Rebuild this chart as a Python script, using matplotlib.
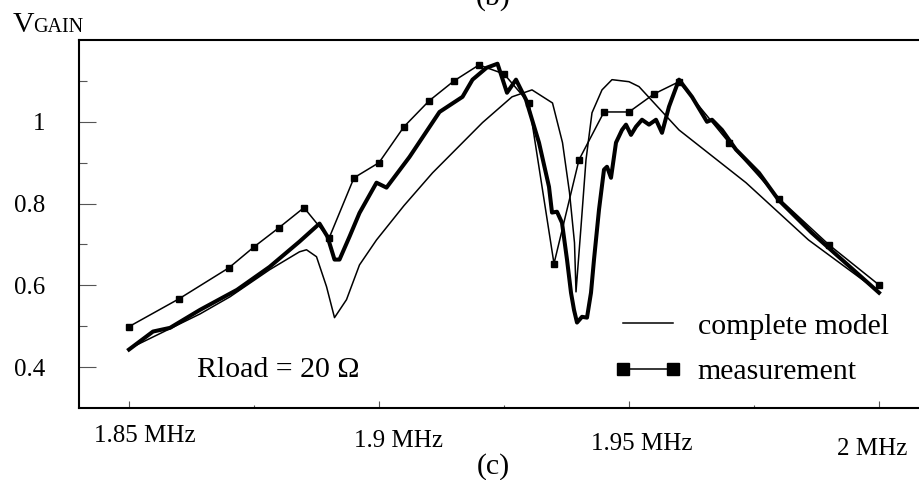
import matplotlib.pyplot as plt
from matplotlib.transforms import ScaledTranslation

plt.rcParams['font.family'] = ['Liberation Serif', 'DejaVu Serif']

# measurement (square markers)
meas_f = [1.85, 1.86, 1.87, 1.875, 1.88, 1.885, 1.89, 1.895, 1.9, 1.905,
          1.91, 1.915, 1.92, 1.925, 1.93, 1.935, 1.94, 1.945, 1.95, 1.955,
          1.96, 1.97, 1.98, 1.99, 2.0]
meas_v = [0.499, 0.567, 0.643, 0.694, 0.741, 0.790, 0.715, 0.863, 0.900, 0.988,
          1.051, 1.100, 1.139, 1.117, 1.046, 0.653, 0.907, 1.024, 1.024, 1.068,
          1.098, 0.949, 0.812, 0.699, 0.601]

# complete model (thin line)
model_f = [1.85, 1.8582, 1.8642, 1.8702, 1.8781, 1.8841, 1.8855, 1.8875, 1.8895,
           1.8911, 1.8935, 1.8961, 1.8995, 1.905, 1.9107, 1.9207, 1.9266, 1.9306,
           1.9347, 1.9367, 1.9381, 1.9391, 1.9394, 1.9404, 1.9414, 1.9426,
           1.9446, 1.9466, 1.95, 1.952, 1.96, 1.9734, 1.9859, 2.0]
model_v = [0.445, 0.494, 0.530, 0.572, 0.638, 0.682, 0.687, 0.670, 0.597,
           0.521, 0.565, 0.650, 0.711, 0.795, 0.875, 0.998, 1.061, 1.078,
           1.046, 0.949, 0.827, 0.704, 0.584, 0.743, 0.907, 1.022,
           1.078, 1.103, 1.098, 1.086, 0.980, 0.851, 0.711, 0.584]

# thick trace
trace_f = [1.85, 1.8548, 1.8582, 1.8642, 1.8716, 1.8781, 1.8841, 1.8881, 1.8897,
           1.8911, 1.8921, 1.8941, 1.8961, 1.8995, 1.9015, 1.9061, 1.9121, 1.9167,
           1.9187, 1.9215, 1.9237, 1.9256, 1.9274, 1.9294, 1.932, 1.934, 1.9346,
           1.9356, 1.9366, 1.9376, 1.9384, 1.939, 1.9396, 1.9406, 1.9416, 1.9424,
           1.943, 1.944, 1.945, 1.9456, 1.9464, 1.9474, 1.9486, 1.9494, 1.9504,
           1.9514, 1.9526, 1.954, 1.9554, 1.9566, 1.958, 1.96, 1.9626, 1.9656,
           1.9666, 1.9686, 1.9714, 1.976, 1.9799, 1.9865, 2.0]
trace_v = [0.443, 0.487, 0.496, 0.540, 0.589, 0.645, 0.707, 0.751, 0.719,
           0.663, 0.663, 0.719, 0.777, 0.851, 0.839, 0.914, 1.024, 1.061,
           1.103, 1.132, 1.142, 1.071, 1.103, 1.054, 0.949, 0.841, 0.778,
           0.780, 0.753, 0.663, 0.582, 0.540, 0.509, 0.523, 0.521, 0.582,
           0.663, 0.785, 0.883, 0.890, 0.863, 0.949, 0.980, 0.993, 0.968,
           0.988, 1.005, 0.993, 1.005, 0.973, 1.037, 1.103, 1.061, 1.000,
           1.005, 0.980, 0.932, 0.875, 0.809, 0.729, 0.582]

x_major = [1.85, 1.9, 1.95, 2.0]
x_labels = ['1.85 MHz', '1.9 MHz', '1.95 MHz', '2 MHz']
x_minor = [1.875, 1.925, 1.975]
y_major = [0.4, 0.6, 0.8, 1.0]
y_labels = ['0.4', '0.6', '0.8', '1']
y_minor = [0.5, 0.7, 0.9, 1.1]

fig = plt.figure(figsize=(9.2, 4.8), dpi=100)
ax = fig.add_axes([79 / 920, 72 / 480, 841 / 920, 368 / 480])

ax.plot(model_f, model_v, color='black', lw=1.1, label='complete model')
ax.plot(trace_f, trace_v, color='black', lw=2.9, solid_joinstyle='round')
ax.plot(meas_f, meas_v, color='black', lw=1.1, marker='s', ms=5,
        label='measurement')

ax.set_xlim(1.84, 2.0082)
ax.set_ylim(0.3, 1.2)

ax.spines['right'].set_visible(False)
for s in ['left', 'bottom', 'top']:
    ax.spines[s].set_linewidth(1.5)

ax.set_xticks(x_major, x_labels)
ax.set_xticks(x_minor, minor=True)
ax.set_yticks(y_major, y_labels)
ax.set_yticks(y_minor, minor=True)
ax.tick_params(axis='x', which='major', direction='in', length=5, width=0.8,
               color='#555555', labelsize=18, pad=12.5)
ax.tick_params(axis='x', which='minor', direction='in', length=2.5, width=0.8,
               color='#555555')
ax.tick_params(axis='y', which='major', direction='in', length=12, width=0.8,
               color='#555555', labelsize=18, pad=24)
ax.tick_params(axis='y', which='minor', direction='in', length=6, width=0.8,
               color='#555555')

# staggered x tick labels as in the original
offsets = [(16, 0), (19, -5), (13, -8), (-7, -13)]
for lab, (dx, dy) in zip(ax.get_xticklabels(), offsets):
    lab.set_transform(lab.get_transform() +
                      ScaledTranslation(dx / 100, dy / 100, fig.dpi_scale_trans))

ax.text(0.140, 0.084, 'Rload = 20 \u03a9', transform=ax.transAxes,
        fontsize=21.5, va='baseline', ha='left')

ax.legend(loc='upper left', bbox_to_anchor=(614 / 920, 1 - 313 / 480),
          bbox_transform=fig.transFigure, frameon=False, fontsize=21.5,
          numpoints=2, markerscale=1.6, handlelength=2.27, handletextpad=0.53,
          labelspacing=0.62, borderpad=0, borderaxespad=0)

fig.text(13 / 920, 1 - 32 / 480, 'V', fontsize=21.5, va='baseline', ha='left')
fig.text(33 / 920, 1 - 32 / 480, 'GAIN', fontsize=14.5, va='baseline', ha='left')
fig.text(493 / 920, 1 - 11 / 480, '(b)', fontsize=21.5, va='bottom', ha='center')
fig.text(493 / 920, 1 - 467 / 480, '(c)', fontsize=21.5, va='center', ha='center')

fig.savefig('out.png', dpi=100)
